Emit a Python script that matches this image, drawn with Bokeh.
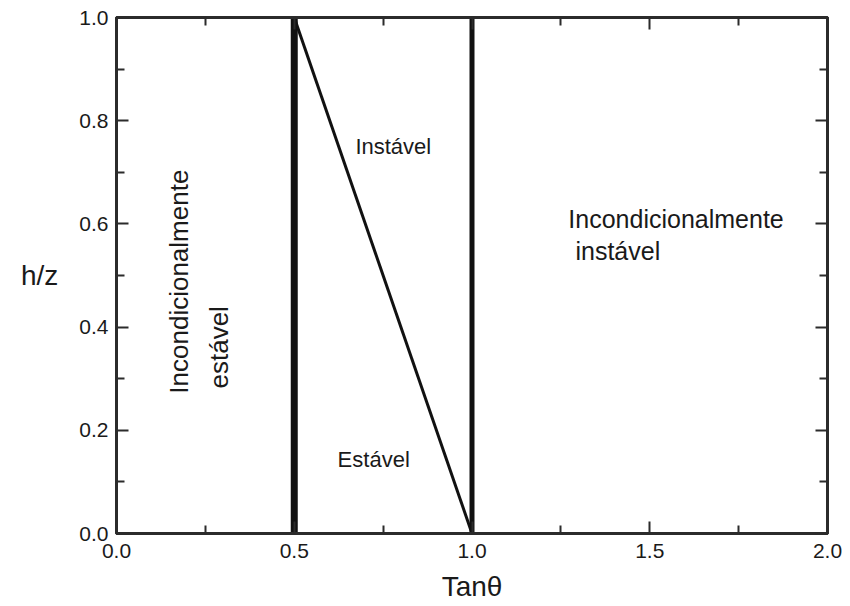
from bokeh.plotting import figure
from bokeh.models import (Range1d, FixedTicker, LinearAxis, Label, PrintfTickFormatter)
from bokeh.embed import file_html
from bokeh.resources import INLINE

# ---- data ----
x_ticks = [0.0, 0.5, 1.0, 1.5, 2.0]
x_minor = [0.25, 0.75, 1.25, 1.75]
y_ticks = [0.0, 0.2, 0.4, 0.6, 0.8, 1.0]
y_minor = [0.1, 0.3, 0.5, 0.7, 0.9]

stable_limit_x = [0.5, 0.5]
stable_limit_y = [0.0, 1.0]
diag_x = [0.5, 1.0]
diag_y = [1.0, 0.0]
unstable_limit_x = [1.0, 1.0]
unstable_limit_y = [0.0, 1.0]

FONT = "Liberation Sans"
TXT = "#1a1a1a"

p = figure(width=846, height=604, output_backend="svg", toolbar_location=None,
           x_range=Range1d(0, 2), y_range=Range1d(0, 1),
           min_border_left=116, min_border_right=19, min_border_top=17, min_border_bottom=71,
           x_axis_location=None, y_axis_location=None)
p.xgrid.visible = False
p.ygrid.visible = False
p.outline_line_color = "#2b2b2b"
p.outline_line_width = 3
p.background_fill_color = "white"
p.border_fill_color = "white"

def make_axis(ticks, minor, show_labels, standoff):
    ax = LinearAxis(ticker=FixedTicker(ticks=ticks, minor_ticks=minor),
                    formatter=PrintfTickFormatter(format="%.1f"))
    ax.axis_line_color = "#2b2b2b"
    ax.axis_line_width = 3
    ax.major_tick_line_color = "#2b2b2b"
    ax.major_tick_line_width = 2
    ax.minor_tick_line_color = "#2b2b2b"
    ax.minor_tick_line_width = 2
    ax.major_tick_in = 12
    ax.major_tick_out = 0
    ax.minor_tick_in = 8
    ax.minor_tick_out = 0
    ax.major_label_text_font = FONT
    ax.major_label_text_color = TXT
    ax.major_label_text_font_size = "21px"
    ax.axis_label_text_font = FONT
    ax.axis_label_text_font_style = "normal"
    ax.axis_label_text_color = TXT
    ax.axis_label_text_font_size = "28px"
    if show_labels:
        ax.major_label_standoff = standoff
    else:
        ax.major_label_overrides = {t: "" for t in ticks}
        ax.major_label_standoff = 0
    return ax

xax = make_axis(x_ticks, x_minor, True, 10)
xax.axis_label = "Tanθ"
xax.axis_label_standoff = 10
yax = make_axis(y_ticks, y_minor, True, 8)
yax.axis_label = "h/z"
yax.axis_label_orientation = "horizontal"
yax.axis_label_standoff = 18
p.add_layout(xax, "below")
p.add_layout(yax, "left")
p.add_layout(make_axis(x_ticks, x_minor, False, 0), "above")
p.add_layout(make_axis(y_ticks, y_minor, False, 0), "right")

p.line(stable_limit_x, stable_limit_y, line_color="#111111", line_width=7)
p.line(diag_x, diag_y, line_color="#111111", line_width=3)
p.line(unstable_limit_x, unstable_limit_y, line_color="#111111", line_width=5)

def lab(x, y, text, size, align="left", angle=0.0):
    p.add_layout(Label(x=x, y=y, text=text, text_font=FONT, text_font_size=size,
                       text_color=TXT, text_align=align, text_baseline="middle",
                       angle=angle, angle_units="deg"))

lab(0.672, 0.75, "Instável", "22px")
lab(0.622, 0.143, "Estável", "22px")
lab(1.271, 0.610, "Incondicionalmente", "25px")
lab(1.291, 0.548, "instável", "25px")
lab(0.177, 0.271, "Incondicionalmente", "26px", angle=90)
lab(0.287, 0.281, "estável", "26px", angle=90)

open("out.html", "w").write(file_html(p, INLINE))
